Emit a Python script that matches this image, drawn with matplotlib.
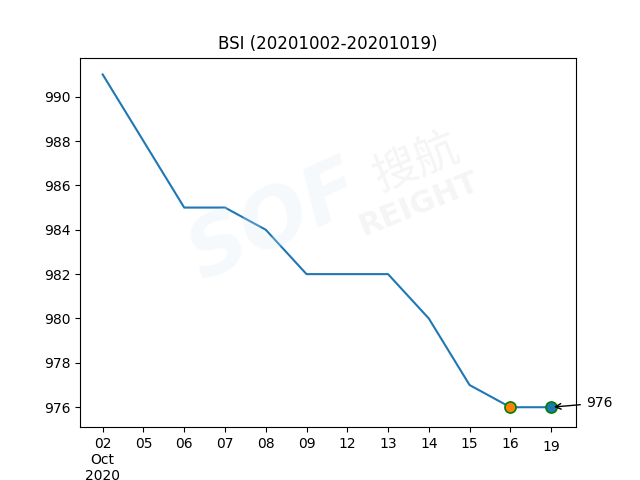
import matplotlib
matplotlib.use("Agg")
import matplotlib.pyplot as plt
from matplotlib.transforms import ScaledTranslation

days = ["02", "05", "06", "07", "08", "09", "12", "13", "14", "15", "16", "19"]
values = [991, 988, 985, 985, 984, 982, 982, 982, 980, 977, 976, 976]
title = "BSI (20201002-20201019)"

fig, ax = plt.subplots(figsize=(6.4, 4.8), dpi=100)
x = list(range(len(days)))

# faint watermark
fig.text(0.43, 0.535, "SOF", fontsize=58, fontweight="bold", fontstyle="italic",
         color="#dbe8f5", alpha=0.25, rotation=25, ha="center", va="center", zorder=0)
fig.text(0.65, 0.66, "搜航", fontsize=32, color="#cccccc", alpha=0.2, rotation=22,
         ha="center", va="center", family=["Noto Sans CJK SC", "DejaVu Sans"], zorder=0)
fig.text(0.655, 0.575, "REIGHT", fontsize=22, fontweight="bold", color="#cccccc",
         alpha=0.2, rotation=22, ha="center", va="center", zorder=0)

ax.plot(x, values, color="C0", linewidth=1.5)
ax.plot(x[-2], values[-2], "o", markersize=8, markerfacecolor="C1",
        markeredgecolor="green", markeredgewidth=1.2)
ax.plot(x[-1], values[-1], "o", markersize=8, markerfacecolor="C0",
        markeredgecolor="green", markeredgewidth=1.2)
ax.annotate(str(values[-1]), xy=(x[-1], values[-1]), xytext=(25, 3),
            textcoords="offset points", ha="left", va="center", fontsize=10,
            arrowprops=dict(arrowstyle="->", color="black"), annotation_clip=False)

labels = [days[0] + "\nOct\n2020"] + days[1:]
ax.set_xticks(x)
ax.set_xticklabels(labels)
ax.set_xlim(-0.556, 11.61)
ax.set_ylim(975.1, 991.76)
last = ax.get_xticklabels()[-1]
last.set_transform(last.get_transform() + ScaledTranslation(0, -0.035, fig.dpi_scale_trans))
ax.set_title(title)
ax.patch.set_alpha(0)
fig.savefig("out.png", dpi=100)
